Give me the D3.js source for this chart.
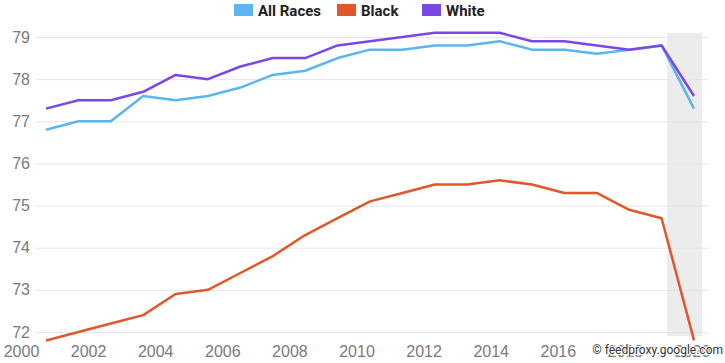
<!DOCTYPE html>
<html>
<head>
<meta charset="utf-8">
<script src="https://cdn.jsdelivr.net/npm/d3@7"></script>
<style>
  body { margin: 0; background: #fff; }
  svg { display: block; font-family: Roboto, 'DejaVu Sans', sans-serif; }
</style>
</head>
<body>
<div id="chart-area"></div>
<script>
const years = d3.range(2000, 2021)
const allRaces = [76.8, 77.0, 77.0, 77.6, 77.5, 77.6, 77.8, 78.1, 78.2, 78.5, 78.7, 78.7, 78.8, 78.8, 78.9, 78.7, 78.7, 78.6, 78.7, 78.8, 77.3]
const black = [71.8, 72.0, 72.2, 72.4, 72.9, 73.0, 73.4, 73.8, 74.3, 74.7, 75.1, 75.3, 75.5, 75.5, 75.6, 75.5, 75.3, 75.3, 74.9, 74.7, 71.8]
const white = [77.3, 77.5, 77.5, 77.7, 78.1, 78.0, 78.3, 78.5, 78.5, 78.8, 78.9, 79.0, 79.1, 79.1, 79.1, 78.9, 78.9, 78.8, 78.7, 78.8, 77.6]
const yTicks = [72, 73, 74, 75, 76, 77, 78, 79]
const xTicks = [2000, 2002, 2004, 2006, 2008, 2010, 2012, 2014, 2016, 2018, 2020]
const seriesNames = ['All Races', 'Black', 'White']
const colors = ['#5bb5ee', '#e0582a', '#7b47e6']

const W = 725, H = 363

const svg = d3.select('#chart-area').append('svg')
  .attr('width', W)
  .attr('height', H)

const x = d3.scaleLinear().domain([2000, 2020]).range([46, 694])
const xLab = d3.scaleLinear().domain([2000, 2020]).range([21, 692])
const y = d3.scaleLinear().domain([72, 79]).range([332, 37])

// shaded 2020 band
svg.append('rect')
  .attr('x', x(2019.17))
  .attr('y', 33)
  .attr('width', x(2020.25) - x(2019.17))
  .attr('height', 303)
  .attr('fill', '#ececec')

// gridlines + y labels
const yAxis = d3.axisLeft(y)
  .tickValues(yTicks)
  .tickFormat(d3.format('d'))
  .tickSize(-(708 - 36))
  .tickPadding(6)
svg.append('g')
  .attr('transform', 'translate(36,0)')
  .call(yAxis)
  .call(g => g.select('.domain').remove())
  .call(g => g.selectAll('line').attr('stroke', '#e6e6e6').attr('stroke-width', 1))
  .call(g => g.selectAll('text')
    .attr('fill', '#7a7a7a')
    .attr('font-size', '16px')
    .attr('font-weight', 500))

// x labels
const xAxis = d3.axisBottom(xLab)
  .tickValues(xTicks)
  .tickFormat(d3.format('d'))
  .tickSize(0)
  .tickPadding(0)
svg.append('g')
  .attr('transform', 'translate(0,346)')
  .call(xAxis)
  .call(g => g.select('.domain').remove())
  .call(g => g.selectAll('text')
    .attr('fill', '#7a7a7a')
    .attr('font-size', '16px')
    .attr('font-weight', 500))

// lines
const line = d3.line()
  .x((d, i) => x(years[i]))
  .y(d => y(d))

const series = [allRaces, black, white]
series.forEach((s, i) => {
  svg.append('path')
    .datum(s)
    .attr('d', line)
    .attr('fill', 'none')
    .attr('stroke', colors[i])
    .attr('stroke-width', 2.5)
    .attr('stroke-linejoin', 'round')
})

// legend
const legendX = [234, 337, 422]
const legend = svg.append('g')
seriesNames.forEach((n, i) => {
  legend.append('rect')
    .attr('x', legendX[i])
    .attr('y', 4)
    .attr('width', 19)
    .attr('height', 12)
    .attr('fill', colors[i])
  legend.append('text')
    .attr('x', legendX[i] + 24)
    .attr('y', 16)
    .attr('font-size', '15px')
    .attr('font-weight', 700)
    .attr('fill', '#222')
    .text(n)
})

// watermark (sits over the last tick labels, as in the source)
svg.append('text')
  .attr('x', 723)
  .attr('y', 354)
  .attr('text-anchor', 'end')
  .attr('font-size', '12px')
  .attr('fill', '#333')
  .attr('stroke', '#fff')
  .attr('stroke-width', 2)
  .attr('paint-order', 'stroke')
  .text('© feedproxy.google.com')
</script>
</body>
</html>
